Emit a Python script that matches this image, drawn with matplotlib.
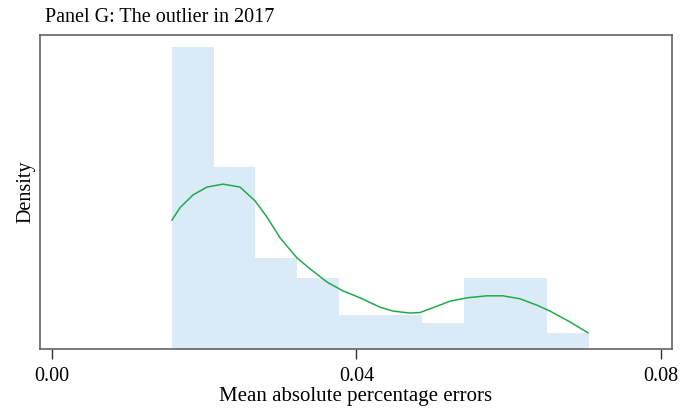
import numpy as np
import matplotlib
matplotlib.use("Agg")
import matplotlib.pyplot as plt

plt.rcParams['font.family'] = ['Liberation Serif', 'DejaVu Serif']

# ============================================================
# Data
# ============================================================

bin_edges = [0.01576, 0.02124, 0.02672, 0.03220, 0.03767, 0.04315,
             0.04863, 0.05411, 0.05959, 0.06507, 0.07055]

hist_density = [61.4, 37.0, 18.5, 14.5, 7.0, 7.0, 5.2, 14.5, 14.5, 3.2]

kde_x = [0.01576, 0.01681, 0.01852, 0.02036, 0.02246, 0.02470, 0.02667,
         0.02824, 0.02995, 0.03218, 0.03389, 0.03612, 0.03823, 0.04046,
         0.04309, 0.04479, 0.04703, 0.04834, 0.05057, 0.05228, 0.05452,
         0.05714, 0.05924, 0.06148, 0.06371, 0.06542, 0.06805, 0.07041]

kde_y = [26.2, 28.7, 31.3, 32.9, 33.5, 32.9, 30.1,
         26.8, 22.6, 18.5, 16.3, 13.6, 11.8, 10.4,
         8.5, 7.7, 7.3, 7.4, 8.7, 9.7, 10.4,
         10.8, 10.8, 10.2, 8.9, 7.7, 5.5, 3.3]

xticks = [0.00, 0.04, 0.08]
xtick_labels = ["0.00", "0.04", "0.08"]

# ============================================================
# Figure
# ============================================================

fig = plt.figure(figsize=(6.82, 4.11), dpi=100)
ax = fig.add_axes([0.0587, 0.1509, 0.9266, 0.7639])

edges = np.array(bin_edges)
ax.bar(edges[:-1], hist_density, width=np.diff(edges), align='edge',
       color='#daebf7', edgecolor='none', linewidth=0)

ax.plot(kde_x, kde_y, color='#22aa48', linewidth=1.1,
        solid_joinstyle='round')

ax.set_xlim(-0.001576, 0.08145)
ax.set_ylim(0, 63.8)

ax.set_xticks(xticks)
ax.set_xticklabels(xtick_labels)
ax.set_yticks([])

ax.tick_params(axis='x', direction='out', length=7, width=1.0,
               color='#303030', labelsize=14.5, pad=6)

for side in ['left', 'right', 'top', 'bottom']:
    ax.spines[side].set_color('#555555')
    ax.spines[side].set_linewidth(1.1)

ax.set_xlabel("Mean absolute percentage errors", fontsize=15, labelpad=1)
ax.set_ylabel("Density", fontsize=14.5, labelpad=3)

fig.text(0.066, 0.957, "Panel G: The outlier in 2017", fontsize=14.5,
         ha='left', va='center')

fig.savefig("out.png", dpi=100)
